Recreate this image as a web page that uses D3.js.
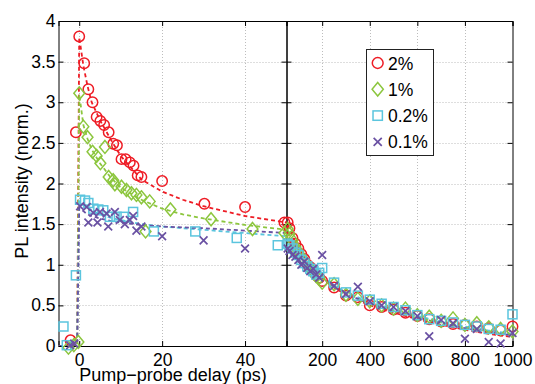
<!DOCTYPE html>
<html>
<head>
<meta charset="utf-8">
<script src="https://cdn.jsdelivr.net/npm/d3@7"></script>
<style>
  body { margin: 0; background: #fff; }
  text { font-family: "Liberation Sans", Arial, sans-serif; fill: #000; }
</style>
</head>
<body>
<div id="chart"></div>
<script>
// series names / legend labels
var seriesNames = ["2%", "1%", "0.2%", "0.1%"];

// short delays (ps) measured for each series, left panel
var redDelay = [-2.1, -0.8, 0, 1.2, 2.2, 3.2, 4.2, 5.1, 6.0, 7.1, 8.2, 9.1, 10.2, 11.2, 12.2, 13.1, 14.1, 15.0, 20.0, 30.2, 40, 49.5];
var redPL = [0.07, 2.63, 3.81, 3.48, 3.16, 3.0, 2.82, 2.77, 2.72, 2.63, 2.49, 2.47, 2.30, 2.30, 2.26, 2.22, 2.10, 2.08, 2.03, 1.75, 1.71, 1.52];

var greenDelay = [-2.6, -1.3, -0.2, 0, 1.0, 2.0, 3.2, 4.2, 5.1, 6.2, 7.1, 8.2, 8.6, 10.2, 11.4, 12.6, 13.8, 15.0, 16.0, 17, 22, 31.8, 41.8, 49.5];
var greenPL = [-0.02, 0.01, 0.05, 3.11, 2.70, 2.57, 2.39, 2.34, 2.25, 2.45, 2.08, 2.04, 1.99, 1.96, 1.92, 1.88, 1.86, 1.83, 1.41, 1.78, 1.68, 1.56, 1.44, 1.39];

var cyanDelay = [-3.8, -3.0, -0.8, 0.2, 1.4, 2.2, 3.4, 4.6, 5.8, 7.4, 9.0, 10.7, 13, 18, 28, 38, 47.9];
var cyanPL = [0.24, 0.01, 0.87, 1.80, 1.79, 1.76, 1.69, 1.68, 1.67, 1.59, 1.59, 1.59, 1.65, 1.41, 1.41, 1.33, 1.24];

var purpleDelay = [-2.2, -1.2, 0.2, 1.8, 2.2, 3.4, 4.4, 5, 6.6, 7, 8.6, 9.8, 11, 12.2, 13, 13.8, 15, 20, 30, 40];
var purplePL = [0.01, 0.03, 1.72, 1.71, 1.52, 1.64, 1.52, 1.65, 1.63, 1.47, 1.65, 1.55, 1.50, 1.55, 1.60, 1.42, 1.47, 1.35, 1.30, 1.20];

// long delays (ps) shared by all series, right panel
var longDelay = [55, 62.5, 75, 87.5, 100, 112.5, 125, 137.5, 150, 162.5, 175, 187.5, 200, 250, 300, 350, 400, 450, 500, 550, 600, 650, 700, 750, 800, 850, 900, 950, 1000];
var redLong = [1.52, 1.45, 1.33, 1.26, 1.20, 1.13, 1.07, 1.00, 0.97, 0.92, 0.87, 0.84, 0.80, 0.72, 0.62, 0.60, 0.50, 0.48, 0.45, 0.41, 0.37, 0.33, 0.30, 0.27, 0.26, 0.24, 0.22, 0.19, 0.24];
var greenLong = [1.44, 1.38, 1.30, 1.22, 1.16, 1.10, 1.04, 1.00, 0.95, 0.90, 0.86, 0.84, 0.78, 0.76, 0.63, 0.58, 0.55, 0.50, 0.46, 0.46, 0.38, 0.36, 0.31, 0.34, 0.26, 0.28, 0.23, 0.21, 0.18];
var cyanLong = [1.26, 1.24, 1.20, 1.15, 1.12, 1.06, 1.02, 0.98, 0.95, 0.92, 0.88, 0.90, 0.96, 0.78, 0.66, 0.62, 0.57, 0.52, 0.48, 0.44, 0.38, 0.33, 0.31, 0.29, 0.26, 0.24, 0.21, 0.20, 0.39];
var purpleLong = [1.20, 1.17, 1.12, 1.10, 1.06, 1.00, 1.04, 0.96, 0.92, 0.95, 0.88, 0.84, 1.12, 0.74, 0.64, 0.73, 0.55, 0.50, 0.48, 0.43, 0.37, 0.12, 0.32, 0.28, 0.09, 0.21, 0.05, 0.03, 0.16];

// fitted curves (dashed)
var fitDelay = [-5, -0.5, 0, 1, 2, 3, 5, 7.5, 10, 15, 20, 25, 30, 40, 50, 75, 100, 150, 200, 250, 300, 400, 500, 600, 700, 800, 900, 1000];
var redFit = [0, 0, 3.8, 3.45, 3.2, 3.0, 2.78, 2.55, 2.34, 2.05, 1.9, 1.8, 1.72, 1.6, 1.52, 1.35, 1.20, 0.98, 0.83, 0.72, 0.63, 0.50, 0.41, 0.33, 0.26, 0.20, 0.15, 0.11];
var greenFit = [0, 0, 3.1, 2.72, 2.55, 2.42, 2.25, 2.08, 1.95, 1.80, 1.69, 1.62, 1.57, 1.49, 1.43, 1.31, 1.19, 0.99, 0.85, 0.74, 0.65, 0.53, 0.44, 0.36, 0.29, 0.23, 0.18, 0.14];
var cyanFit = [0, 0, 1.78, 1.74, 1.70, 1.67, 1.62, 1.58, 1.55, 1.50, 1.47, 1.45, 1.43, 1.39, 1.35, 1.26, 1.16, 0.98, 0.85, 0.75, 0.66, 0.54, 0.45, 0.37, 0.30, 0.24, 0.19, 0.15];
var purpleFit = [0, 0, 1.7, 1.66, 1.62, 1.60, 1.57, 1.54, 1.52, 1.49, 1.47, 1.46, 1.45, 1.42, 1.39, 1.27, 1.16, 0.97, 0.84, 0.73, 0.64, 0.52, 0.43, 0.35, 0.28, 0.22, 0.17, 0.13];

// tick labels
var yTicks = [0, 0.5, 1, 1.5, 2, 2.5, 3, 3.5, 4];
var leftXTicks = [0, 20, 40];
var rightXTicks = [200, 400, 600, 800, 1000];

//Set up chart
var svgWidth = 535;
var svgHeight = 384;

var svg = d3.select("#chart")
  .append("svg")
  .attr("width", svgWidth)
  .attr("height", svgHeight);

var plotTop = 21, plotBottom = 346;
var splitX = 286.5;

var xLeft = d3.scaleLinear().domain([-5, 50]).range([58.5, splitX]);
var xRight = d3.scaleLinear().domain([50, 1000]).range([splitX, 512.5]);
var y = d3.scaleLinear().domain([0, 4]).range([plotBottom, plotTop]);

var colors = ["#ee1c25", "#8cc63e", "#5bc5de", "#6a51a3"];
var shapes = ["circle", "diamond", "square", "cross"];

// pack the arrays into series objects
function zip(xs, ys) {
  return xs.map((d, i) => ({x: d, y: ys[i]}));
}
var series = [
  {short: zip(redDelay, redPL), long: zip(longDelay, redLong), fit: zip(fitDelay, redFit)},
  {short: zip(greenDelay, greenPL), long: zip(longDelay, greenLong), fit: zip(fitDelay, greenFit)},
  {short: zip(cyanDelay, cyanPL), long: zip(longDelay, cyanLong), fit: zip(fitDelay, cyanFit)},
  {short: zip(purpleDelay, purplePL), long: zip(longDelay, purpleLong), fit: zip(fitDelay, purpleFit)}
];

// clip paths for the fit lines
var defs = svg.append("defs");
defs.append("clipPath").attr("id", "clipL").append("rect")
  .attr("x", xLeft.range()[0]).attr("y", plotTop)
  .attr("width", splitX - xLeft.range()[0]).attr("height", plotBottom - plotTop);
defs.append("clipPath").attr("id", "clipR").append("rect")
  .attr("x", splitX).attr("y", plotTop)
  .attr("width", xRight.range()[1] - splitX).attr("height", plotBottom - plotTop);

// dotted grid
function drawGrid(x, xVals) {
  var g = svg.append("g")
    .attr("stroke", "#bdbdbd")
    .attr("stroke-width", 1)
    .attr("stroke-dasharray", "1,2");
  g.selectAll(".v").data(xVals).enter().append("line")
    .attr("x1", d => Math.round(x(d)) + 0.5).attr("x2", d => Math.round(x(d)) + 0.5)
    .attr("y1", plotTop).attr("y2", plotBottom);
  g.selectAll(".h").data(yTicks.slice(1, -1)).enter().append("line")
    .attr("x1", x.range()[0]).attr("x2", x.range()[1])
    .attr("y1", d => Math.round(y(d)) + 0.5).attr("y2", d => Math.round(y(d)) + 0.5);
}
drawGrid(xLeft, leftXTicks);
drawGrid(xRight, rightXTicks.slice(0, -1));

// axes with inward ticks
function drawAxes(x, xVals, showY) {
  var x0 = x.range()[0], x1 = x.range()[1];

  var leftAxis = d3.axisLeft(y).tickValues(yTicks).tickSize(-5).tickPadding(3)
    .tickFormat(showY ? d3.format("~g") : "");
  svg.append("g").attr("transform", `translate(${x0}, 0)`).call(leftAxis);

  var rightAxis = d3.axisRight(y).tickValues(yTicks).tickSize(-5).tickFormat("");
  svg.append("g").attr("transform", `translate(${x1}, 0)`).call(rightAxis);

  var bottomAxis = d3.axisBottom(x).tickValues(xVals).tickSize(-5).tickPadding(8)
    .tickFormat(d3.format("~g"));
  svg.append("g").attr("transform", `translate(0, ${plotBottom})`).call(bottomAxis);

  var topAxis = d3.axisTop(x).tickValues(xVals).tickSize(-5).tickFormat("");
  svg.append("g").attr("transform", `translate(0, ${plotTop})`).call(topAxis);
}
drawAxes(xLeft, leftXTicks, true);
drawAxes(xRight, rightXTicks, false);

svg.selectAll(".domain, .tick line").attr("stroke", "#000").attr("stroke-width", 1);
svg.selectAll(".tick text")
  .style("font-size", "17.5px")
  .style("font-family", "'Liberation Sans', Arial, sans-serif")
  .attr("fill", "#000");

// marker drawing
function marker(sel, shape, color, s) {
  if (shape === "circle") {
    sel.append("circle").attr("r", 5.2 * s)
      .attr("fill", "none").attr("stroke", color).attr("stroke-width", 1.5);
  } else if (shape === "diamond") {
    var w = 5.4 * s, h = 6.5 * s;
    sel.append("path").attr("d", `M0,${-h}L${w},0L0,${h}L${-w},0Z`)
      .attr("fill", "none").attr("stroke", color).attr("stroke-width", 1.5);
  } else if (shape === "square") {
    var a = 4.5 * s;
    sel.append("rect").attr("x", -a).attr("y", -a).attr("width", 2 * a).attr("height", 2 * a)
      .attr("fill", "none").attr("stroke", color).attr("stroke-width", 1.5);
  } else {
    var c = 3.9 * s;
    sel.append("path").attr("d", `M${-c},${-c}L${c},${c}M${-c},${c}L${c},${-c}`)
      .attr("fill", "none").attr("stroke", color).attr("stroke-width", 1.7);
  }
}

// fit lines
series.forEach(function(s, i) {
  [[xLeft, "clipL"], [xRight, "clipR"]].forEach(function(p) {
    var line = d3.line().x(d => p[0](d.x)).y(d => y(d.y));
    var pts = s.fit.filter(d => d.x >= p[0].domain()[0] - 50 && d.x <= p[0].domain()[1] + 200);
    svg.append("path")
      .datum(pts)
      .attr("clip-path", `url(#${p[1]})`)
      .attr("d", line)
      .attr("fill", "none")
      .attr("stroke", colors[i])
      .attr("stroke-width", 1.8)
      .attr("stroke-dasharray", "4,3");
  });
});

// data markers
series.forEach(function(s, i) {
  var pts = s.short.map(d => ({px: xLeft(d.x), py: y(d.y)}))
    .concat(s.long.map(d => ({px: xRight(d.x), py: y(d.y)})));
  svg.append("g").selectAll("g").data(pts).enter().append("g")
    .attr("transform", d => `translate(${d.px}, ${d.py})`)
    .each(function() { marker(d3.select(this), shapes[i], colors[i], 1); });
});

// legend
var legend = svg.append("g");
legend.append("rect")
  .attr("x", 366.5).attr("y", 49.5).attr("width", 67).attr("height", 106)
  .attr("fill", "#fff").attr("stroke", "#222").attr("stroke-width", 1);
seriesNames.forEach(function(name, i) {
  var ly = 63 + i * 26.3;
  var g = legend.append("g").attr("transform", `translate(377.7, ${ly})`);
  marker(g, shapes[i], colors[i], 1.04);
  legend.append("text")
    .attr("x", 388).attr("y", ly + 6.5)
    .style("font-size", "17.5px")
    .text(name);
});

// axis titles
svg.append("text")
  .attr("x", 173).attr("y", 381)
  .attr("text-anchor", "middle")
  .style("font-size", "18px")
  .text("Pump\u2212probe delay (ps)");

svg.append("text")
  .attr("transform", "translate(28, 181) rotate(-90)")
  .attr("text-anchor", "middle")
  .style("font-size", "18px")
  .text("PL intensity (norm.)");
</script>
</body>
</html>
